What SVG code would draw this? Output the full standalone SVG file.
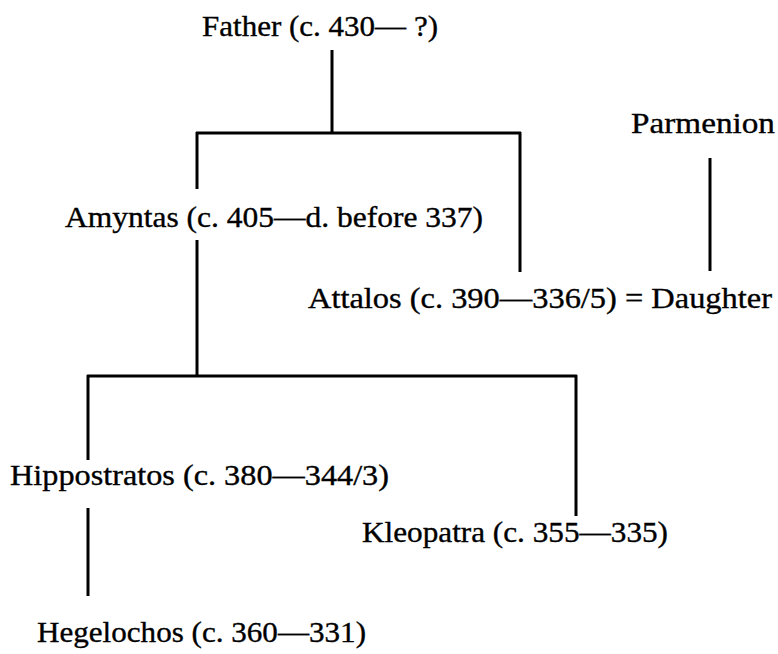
<svg xmlns="http://www.w3.org/2000/svg" width="778" height="654" viewBox="0 0 778 654">
<style>
.t{font-family:"Liberation Serif","DejaVu Serif",serif;font-size:30px;fill:#000;stroke:#000;stroke-width:0.35;}
.c line{stroke:#000;stroke-width:3;}
</style>
<rect width="778" height="654" fill="#fff"/>
<g class="c" id="connectors">
<line x1="332" y1="50" x2="332" y2="133"/>
<line x1="196" y1="133" x2="521" y2="133"/>
<line x1="197" y1="132" x2="197" y2="189"/>
<line x1="197" y1="240" x2="197" y2="377"/>
<line x1="520" y1="132" x2="520" y2="272"/>
<line x1="710" y1="158" x2="710" y2="271"/>
<line x1="87" y1="376" x2="577" y2="376"/>
<line x1="88" y1="375" x2="88" y2="460"/>
<line x1="576" y1="375" x2="576" y2="516"/>
<line x1="88" y1="508" x2="88" y2="596"/>
</g>
<g id="father"><text class="t" x="202" y="36" textLength="236" lengthAdjust="spacingAndGlyphs">Father (c. 430— ?)</text></g>
<g id="parmenion"><text class="t" x="631" y="133" textLength="144" lengthAdjust="spacingAndGlyphs">Parmenion</text></g>
<g id="amyntas"><text class="t" x="65" y="227" textLength="418" lengthAdjust="spacingAndGlyphs">Amyntas (c. 405—d. before 337)</text></g>
<g id="attalos"><text class="t" x="308" y="308" textLength="464" lengthAdjust="spacingAndGlyphs">Attalos (c. 390—336/5) = Daughter</text></g>
<g id="hippostratos"><text class="t" x="10" y="485" textLength="379" lengthAdjust="spacingAndGlyphs">Hippostratos (c. 380—344/3)</text></g>
<g id="kleopatra"><text class="t" x="362" y="542" textLength="306" lengthAdjust="spacingAndGlyphs">Kleopatra (c. 355—335)</text></g>
<g id="hegelochos"><text class="t" x="37" y="642" textLength="329" lengthAdjust="spacingAndGlyphs">Hegelochos (c. 360—331)</text></g>
</svg>
